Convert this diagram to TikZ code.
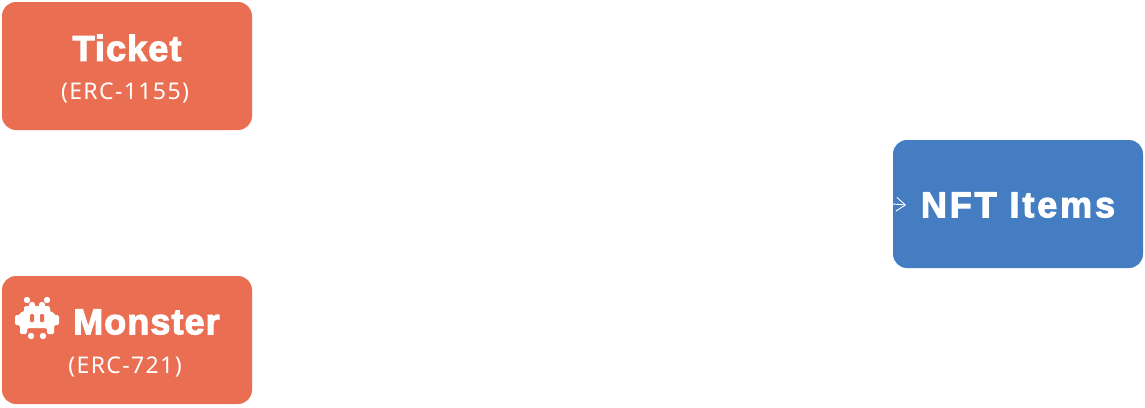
\documentclass[tikz,border=0pt]{standalone}
\usepackage{fontspec}
\usetikzlibrary{arrows.meta}
\setmainfont{Liberation Sans}
\newfontfamily\titlefont[LetterSpace=3,FakeBold=3]{Liberation Sans Bold}
\newfontfamily\itemfont[LetterSpace=8,FakeBold=3]{Liberation Sans Bold}
\newfontfamily\subfont[LetterSpace=6]{Noto Sans}
\definecolor{tokenred}{HTML}{EA6E52}
\definecolor{itemblue}{HTML}{447DC1}
\tikzset{
    x=1pt, y=-1pt,
    tokenbox/.style={fill=tokenred,rounded corners=14pt,minimum width=250pt,minimum height=128pt,inner sep=0pt},
    itembox/.style={tokenbox,fill=itemblue},
    titletext/.style={text=white,font=\fontsize{36}{38}\titlefont,inner sep=0pt},
    subtext/.style={text=white,font=\fontsize{23}{25}\subfont,inner sep=0pt},
    >={Straight Barb[length=9pt,width=14pt]},
}
\begin{document}
\begin{tikzpicture}
    \useasboundingbox (0,0) rectangle (1145,407);

    \node[tokenbox] (ticket) at (127,66) {};
    \node[tokenbox] (monster) at (127,340) {};
    \node[itembox] (items) at (1018,204) {};

    \node[titletext] (tickettitle) at (127,48) {Ticket};
    \node[subtext] (ticketsub) at (125,92.5) {(ERC-1155)};
    \node[titletext,anchor=west] (monstertitle) at (73,322) {Monster};
    \node[subtext] (monstersub) at (125,367) {(ERC-721)};
    \node[titletext,font=\fontsize{36}{38}\itemfont] (itemstitle) at (1018,205) {NFT Items};

    % invader
    \fill[white,rounded corners=1.5pt]
        (24,306) -- (50,306) -- (50,312) -- (54,312) -- (54,315) -- (59,315) -- (59,325)
        -- (54,325) -- (54,334) -- (47,334) -- (47,328) -- (27,328) -- (27,334) -- (20,334)
        -- (20,325) -- (15,325) -- (15,315) -- (20,315) -- (20,312) -- (24,312) -- cycle;
    \fill[white] (27,300) circle (3.2) (47,300) circle (3.2);
    \fill[white] (32,305) circle (3.2) (42,305) circle (3.2);
    \fill[white] (31,336) circle (3.2) (43,336) circle (3.2);
    \fill[tokenred,rounded corners=1pt] (30,314) rectangle (34,322) (40,314) rectangle (44,322);

    \coordinate (arrowtail) at (items.west);
    \coordinate (arrowtip) at (906,205);
    \draw[->,white,line width=0.9pt] (arrowtail) -- (arrowtip);
\end{tikzpicture}
\end{document}
